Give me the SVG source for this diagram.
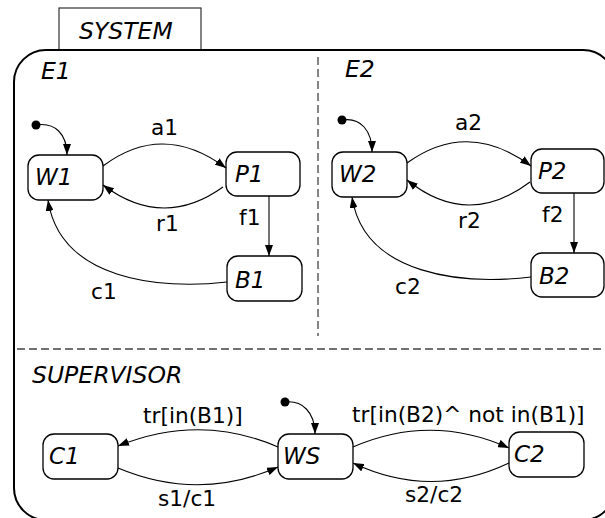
<svg xmlns="http://www.w3.org/2000/svg" width="605" height="518" viewBox="0 0 605 518">
  <style>
    .state { fill: #ffffff; stroke: #000000; stroke-width: 1.3; }
    .title { font-family: "DejaVu Sans", sans-serif; font-style: italic; font-size: 23.5px; fill: #000000; }
    .name { font-family: "DejaVu Sans", sans-serif; font-style: italic; font-size: 23px; fill: #000000; }
    .lbl { font-family: "DejaVu Sans", sans-serif; font-size: 21.7px; fill: #000000; }
    .edge { fill: none; stroke: #000000; stroke-width: 1.1; marker-end: url(#arrow); }
    .sep { stroke: #444444; stroke-width: 1.3; stroke-dasharray: 8 4; fill: none; }
  </style>
  <defs>
    <marker id="arrow" markerUnits="userSpaceOnUse" markerWidth="11" markerHeight="8" refX="11" refY="4" orient="auto">
      <path d="M0,0 L11,4 L0,8 z" fill="#000000"/>
    </marker>
  </defs>

  <rect width="605" height="518" fill="#ffffff"/>

  <!-- SYSTEM superstate -->
  <g id="system">
    <rect x="59" y="8" width="142" height="42" fill="#ffffff" stroke="#333333" stroke-width="1.2"/>
    <text class="title" x="79" y="39">SYSTEM</text>
    <rect x="14" y="50" width="601" height="470" rx="32" ry="32" fill="none" stroke="#000000" stroke-width="2"/>
    <line class="sep" x1="318" y1="57" x2="318" y2="336"/>
    <line class="sep" x1="17" y1="349" x2="605" y2="349"/>
    <text class="title" x="41" y="79">E1</text>
    <text class="title" x="345" y="77">E2</text>
    <text class="title" x="32" y="383">SUPERVISOR</text>
  </g>

  <!-- region E1 -->
  <g id="W1"><rect class="state" x="28" y="155" width="75" height="45" rx="11"/><text class="name" x="35" y="185">W1</text></g>
  <g id="P1"><rect class="state" x="226" y="152" width="74" height="44" rx="11"/><text class="name" x="235" y="182">P1</text></g>
  <g id="B1"><rect class="state" x="227" y="256" width="75" height="45" rx="11"/><text class="name" x="235" y="288">B1</text></g>

  <!-- region E2 -->
  <g id="W2"><rect class="state" x="332" y="152" width="75" height="45" rx="11"/><text class="name" x="339" y="182">W2</text></g>
  <g id="P2"><rect class="state" x="531" y="149" width="73" height="44" rx="11"/><text class="name" x="538" y="179">P2</text></g>
  <g id="B2"><rect class="state" x="531" y="253" width="73" height="44" rx="11"/><text class="name" x="539" y="284">B2</text></g>

  <!-- region SUPERVISOR -->
  <g id="C1"><rect class="state" x="43" y="434" width="75" height="45" rx="11"/><text class="name" x="49" y="464">C1</text></g>
  <g id="WS"><rect class="state" x="278" y="434" width="75" height="45" rx="11"/><text class="name" x="283" y="464">WS</text></g>
  <g id="C2"><rect class="state" x="509" y="432" width="75" height="45" rx="11"/><text class="name" x="514" y="462">C2</text></g>

  <!-- initial pseudostates -->
  <g id="init1"><circle cx="36" cy="125" r="4.5" fill="#000000"/></g>
  <g id="init2"><circle cx="342" cy="120" r="4.5" fill="#000000"/></g>
  <g id="init3"><circle cx="285" cy="402" r="4.5" fill="#000000"/></g>

  <!-- transitions -->
  <g id="connectors">
    <path class="edge" d="M36,125 C55,122 67,134 67,155"/>
    <path class="edge" d="M103,166 Q163,121 226,168"/>
    <path class="edge" d="M223,187 Q163,230 103,185"/>
    <path class="edge" d="M269,196 L269,256"/>
    <path class="edge" d="M227,282 C160,290 60,280 48,200"/>

    <path class="edge" d="M342,120 C361,117 372,131 372,152"/>
    <path class="edge" d="M407,163 Q468,119 531,166"/>
    <path class="edge" d="M530,182 Q468,229 407,180"/>
    <path class="edge" d="M574,193 L574,253"/>
    <path class="edge" d="M531,277 C464,285 364,276 352,197"/>

    <path class="edge" d="M285,402 C302,400 315,412 315,434"/>
    <path class="edge" d="M278,447 Q200,413 118,446"/>
    <path class="edge" d="M118,468 Q199,502 278,467"/>
    <path class="edge" d="M353,447 Q431,413 509,448"/>
    <path class="edge" d="M509,463 Q431,500 353,463"/>

    <text class="lbl" x="151" y="135">a1</text>
    <text class="lbl" x="156" y="231">r1</text>
    <text class="lbl" x="239" y="225">f1</text>
    <text class="lbl" x="91" y="299">c1</text>
    <text class="lbl" x="455" y="130">a2</text>
    <text class="lbl" x="458" y="228">r2</text>
    <text class="lbl" x="542" y="222">f2</text>
    <text class="lbl" x="395" y="294">c2</text>
    <text class="lbl" x="143" y="423">tr[in(B1)]</text>
    <text class="lbl" x="158" y="506">s1/c1</text>
    <text class="lbl" x="352" y="422">tr[in(B2)^ not in(B1)]</text>
    <text class="lbl" x="405" y="502">s2/c2</text>
  </g>
</svg>
